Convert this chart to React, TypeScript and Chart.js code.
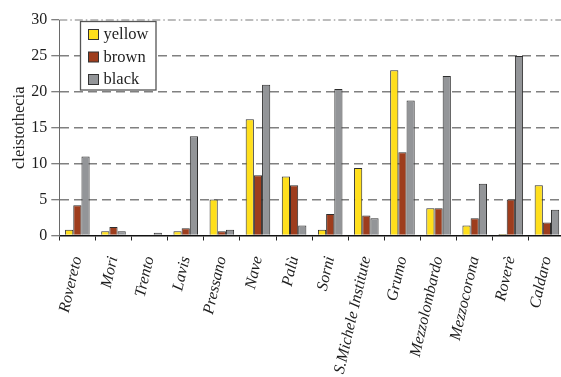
import React, { useEffect, useRef } from "react";
import { Chart, registerables } from "chart.js";

Chart.register(...registerables);

const categories = [
  "Rovereto",
  "Mori",
  "Trento",
  "Lavis",
  "Pressano",
  "Nave",
  "Palù",
  "Sorni",
  "S.Michele Institute",
  "Grumo",
  "Mezzolombardo",
  "Mezzocorona",
  "Roverè",
  "Caldaro",
];

const yellowValues = [0.8, 0.6, 0, 0.6, 5.0, 16.2, 8.2, 0.8, 9.4, 23.0, 3.8, 1.4, 0.2, 7.0];
const brownValues = [4.2, 1.2, 0, 1.0, 0.6, 8.4, 7.0, 3.0, 2.8, 11.6, 3.8, 2.4, 5.0, 1.8];
const blackValues = [11.0, 0.6, 0.4, 13.8, 0.8, 21.0, 1.4, 20.4, 2.4, 18.8, 22.2, 7.2, 25.0, 3.6];

const seriesNames = ["yellow", "brown", "black"];
const seriesColors = ["#FFDF1C", "#9E3D1D", "#939598"];

const yMin = 0;
const yMax = 30;
const yStep = 5;

const SERIF = "'Liberation Serif', 'Times New Roman', serif";

// Dash-dot line along the top of the plot and a boxed legend in the upper left corner.
const decorations = {
  id: "decorations",
  beforeDatasetsDraw(chart: any) {
    const { ctx, chartArea, scales } = chart;
    const y = scales.y.getPixelForValue(yMax);
    ctx.save();
    ctx.strokeStyle = "#7a7a7a";
    ctx.lineWidth = 1.2;
    ctx.setLineDash([8, 3, 1.5, 3]);
    ctx.beginPath();
    ctx.moveTo(chartArea.left, y);
    ctx.lineTo(chartArea.right, y);
    ctx.stroke();
    ctx.restore();
  },
  afterDraw(chart: any) {
    const { ctx } = chart;
    const box = { x: 80.5, y: 21.5, w: 75.5, h: 68.5 };
    ctx.save();
    ctx.fillStyle = "#ffffff";
    ctx.fillRect(box.x, box.y, box.w, box.h);
    ctx.strokeStyle = "#555555";
    ctx.lineWidth = 1.3;
    ctx.strokeRect(box.x, box.y, box.w, box.h);
    ctx.font = `16.5px ${SERIF}`;
    ctx.textBaseline = "middle";
    ctx.textAlign = "left";
    chart.data.datasets.forEach((ds: any, i: number) => {
      const cy = 34.5 + i * 22.5;
      ctx.fillStyle = ds.backgroundColor;
      ctx.fillRect(88.5, cy - 5, 10, 10);
      ctx.strokeStyle = "#333333";
      ctx.lineWidth = 1;
      ctx.strokeRect(88.5, cy - 5, 10, 10);
      ctx.fillStyle = "#1e1e1e";
      ctx.fillText(ds.label, 103.5, cy + 0.5);
    });
    ctx.restore();
  },
};

export default function App() {
  const canvasRef = useRef<HTMLCanvasElement | null>(null);

  useEffect(() => {
    const canvas = canvasRef.current;
    if (!canvas) return;
    const valueSets = [yellowValues, brownValues, blackValues];
    const chart = new Chart(canvas, {
      type: "bar",
      data: {
        labels: categories,
        datasets: seriesNames.map((name, i) => ({
          label: name,
          data: valueSets[i],
          backgroundColor: seriesColors[i],
          borderColor: "#2e2e2e",
          borderWidth: 1,
          categoryPercentage: 0.68,
          barPercentage: 1.0,
        })),
      },
      options: {
        responsive: false,
        animation: false,
        devicePixelRatio: 1,
        layout: { padding: { left: 0, right: 10, top: 20, bottom: 0 } },
        plugins: {
          legend: { display: false },
          tooltip: { enabled: false },
          title: { display: false },
        },
        scales: {
          x: {
            offset: true,
            afterFit: (scale: any) => {
              scale.height = 141.5;
            },
            grid: {
              display: true,
              offset: true,
              drawOnChartArea: false,
              drawTicks: true,
              tickLength: 5,
              tickColor: "#222222",
              tickWidth: 1,
            },
            border: { display: true, color: "#111111", width: 1.5 },
            ticks: {
              autoSkip: false,
              minRotation: 77,
              maxRotation: 77,
              padding: 14,
              color: "#1e1e1e",
              font: { family: SERIF, size: 16, style: "italic" },
            },
          },
          y: {
            min: yMin,
            max: yMax,
            afterFit: (scale: any) => {
              scale.width = 59.3;
            },
            grid: {
              color: (c: any) =>
                c.tick && (c.tick.value === yMin || c.tick.value === yMax)
                  ? "rgba(0,0,0,0)"
                  : "#808080",
              lineWidth: 1.5,
              drawTicks: true,
              tickLength: 8,
              tickColor: "#555555",
              tickWidth: 1,
            },
            border: { display: true, color: "#6a6a6a", width: 1, dash: [9, 5] },
            ticks: {
              stepSize: yStep,
              padding: 4,
              color: "#1e1e1e",
              font: { family: SERIF, size: 16 },
            },
            title: {
              display: true,
              text: "cleistothecia",
              color: "#1e1e1e",
              font: { family: SERIF, size: 16.5 },
              padding: { top: 10, bottom: 0 },
            },
          },
        },
      },
      plugins: [decorations],
    });
    return () => chart.destroy();
  }, []);

  return (
    <div
      style={{
        position: "fixed",
        left: 0,
        top: 0,
        width: 561,
        height: 377,
        overflow: "hidden",
        background: "#ffffff",
      }}
    >
      <canvas
        ref={canvasRef}
        width={580}
        height={377}
        style={{ display: "block", width: 580, height: 377 }}
      />
    </div>
  );
}
